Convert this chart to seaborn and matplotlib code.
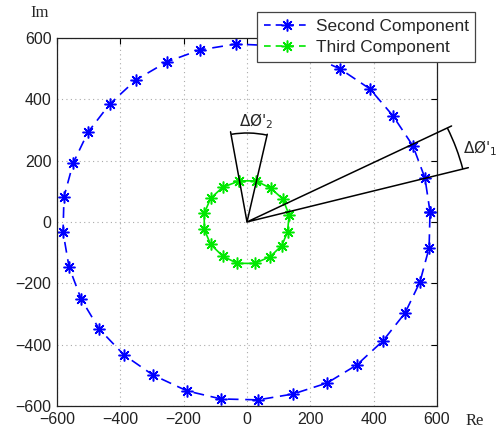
import numpy as np
import pandas as pd
import matplotlib
matplotlib.use("Agg")
import matplotlib.pyplot as plt
from matplotlib.patches import Arc
from matplotlib.lines import Line2D
import seaborn as sns

# ---- data ----
second_re = [578, 562, 524, 461, 388, 294, 189, 78, -35, -149, -253, -351, -433, -502, -549, -578,
             -581, -562, -524, -467, -388, -297, -189, -82, 35, 145, 253, 347, 429, 499, 546, 575]
second_im = [33, 143, 248, 346, 434, 499, 548, 575, 580, 561, 522, 463, 385, 293, 192, 82,
             -33, -147, -251, -349, -434, -499, -551, -577, -580, -561, -525, -466, -388, -297, -196, -85]
third_re = [-24, 28, 75, 113, 133, 128, 110, 73, 25, -31, -77, -115, -135, -135, -115, -77]
third_im = [134, 134, 110, 75, 23, -32, -77, -113, -135, -135, -111, -73, -24, 28, 77, 113]

wedge1_re = [699, 0, 646]
wedge1_im = [177, 0, 313]
wedge1_arc = (703, 14.2, 25.8)
wedge2_re = [-52, 0, 64]
wedge2_im = [294, 0, 286]
wedge2_arc = (290, 77.4, 99.9)

ticks = [-600, -400, -200, 0, 200, 400, 600]
labels = ["Second Component", "Third Component"]

blue = "#0000ff"
green = "#00e800"

sns.set_theme(style="white")
plt.rcParams["font.family"] = ["Liberation Sans", "DejaVu Sans"]
plt.rcParams["mathtext.fontset"] = "dejavusans"

fig = plt.figure(figsize=(4.98, 4.32), dpi=100)
ax = fig.add_axes([0.1145, 0.0602, 0.763, 0.852])

star = (8, 2, 0)

s_df = pd.DataFrame({"re": second_re + second_re[:1], "im": second_im + second_im[:1]})
t_df = pd.DataFrame({"re": third_re + third_re[:1], "im": third_im + third_im[:1]})

sns.lineplot(data=s_df, x="re", y="im", sort=False, estimator=None, ax=ax, color=blue,
             lw=1.2, marker=star, markersize=8.5, markeredgewidth=1.1, markeredgecolor=blue,
             linestyle=(0, (6.5, 4)))
sns.lineplot(data=t_df, x="re", y="im", sort=False, estimator=None, ax=ax, color=green,
             lw=1.2, marker=star, markersize=8.5, markeredgewidth=1.1, markeredgecolor=green,
             linestyle="-")

# angle wedges
for wr, wi, (r, t1, t2) in [(wedge1_re, wedge1_im, wedge1_arc), (wedge2_re, wedge2_im, wedge2_arc)]:
    ax.plot(wr, wi, color="black", lw=1.1, clip_on=False, zorder=4)
    ax.add_patch(Arc((0, 0), 2 * r, 2 * r, theta1=t1, theta2=t2, color="black", lw=1.1,
                     clip_on=False, zorder=4))

ax.text(28, 329, r"$\Delta$Ø$'_2$", ha="center", va="center", fontsize=11,
        family=["DejaVu Sans"])
ax.text(736, 241, r"$\Delta$Ø$'_1$", ha="center", va="center", fontsize=11,
        family=["DejaVu Sans"], clip_on=False)

ax.set_xlim(-600, 600)
ax.set_ylim(-600, 600)
ax.set_xticks(ticks)
ax.set_yticks(ticks)
ax.set_xticklabels([str(t).replace("-", "\u2212") for t in ticks])
ax.set_yticklabels([str(t).replace("-", "\u2212") for t in ticks])
ax.set_xlabel("")
ax.set_ylabel("")
ax.tick_params(direction="in", length=4, width=0.8, top=True, right=True,
               labelsize=11.5, colors="black", pad=4)
ax.tick_params(labelcolor="#222222")
ax.grid(True, linestyle=(0, (1, 3)), color="#aaaaaa", lw=0.8)
for sp in ax.spines.values():
    sp.set_color("#222222")
    sp.set_linewidth(0.9)
    sp.set_visible(True)

fig.text(40 / 498, 1 - 13 / 432, "Im", ha="center", va="center", fontsize=12,
         family=["Liberation Serif"])
fig.text(475 / 498, 1 - 421 / 432, "Re", ha="center", va="center", fontsize=12,
         family=["Liberation Serif"])

handles = [
    Line2D([], [], color=blue, lw=1.2, linestyle=(0, (4, 3)), marker=star, markersize=8.5,
           markeredgewidth=1.1),
    Line2D([], [], color=green, lw=1.2, linestyle=(0, (4, 3)), marker=star, markersize=8.5,
           markeredgewidth=1.1),
]
leg = fig.legend(handles, labels, loc="upper left", bbox_to_anchor=(257 / 498, 1 - 12 / 432),
                 fontsize=12.4, frameon=True, fancybox=False, framealpha=1,
                 edgecolor="#444444", borderpad=0.4, labelspacing=0.35, handlelength=2.7,
                 handletextpad=0.3, borderaxespad=0)
leg.get_frame().set_linewidth(0.9)
leg.set_zorder(10)

fig.savefig("out.png", dpi=100)
